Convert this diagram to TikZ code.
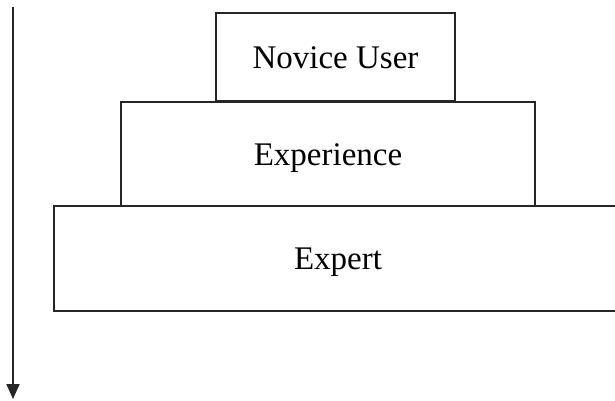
\documentclass[tikz,border=0pt]{standalone}
\usepackage{fontspec}
\setmainfont{Liberation Serif}
\usetikzlibrary{arrows.meta}
\begin{document}
\begin{tikzpicture}[x=1pt,y=-1pt,
  tier/.style={draw=black!85, line width=2pt, fill=white, inner sep=0pt,
    font=\fontsize{33}{40}\selectfont, text height=22pt, text depth=0pt},
  axis/.style={draw=black!85, line width=2pt, -{Triangle[length=15pt,width=13pt]}}]
\useasboundingbox (0,0) rectangle (615,400);
\clip (0,0) rectangle (615,400);
\node[tier, minimum width=568pt, minimum height=105pt] (expert) at (338,258.5) {Expert};
\node[tier, minimum width=414pt, minimum height=104pt] (exper) at (328,154) {Experience};
\node[tier, minimum width=239pt, minimum height=88pt] (novice) at (335.5,57) {Novice User};
\coordinate (atop) at (13,7);
\coordinate (abot) at (13,399);
\draw[axis] (atop) -- (abot);
\end{tikzpicture}
\end{document}
